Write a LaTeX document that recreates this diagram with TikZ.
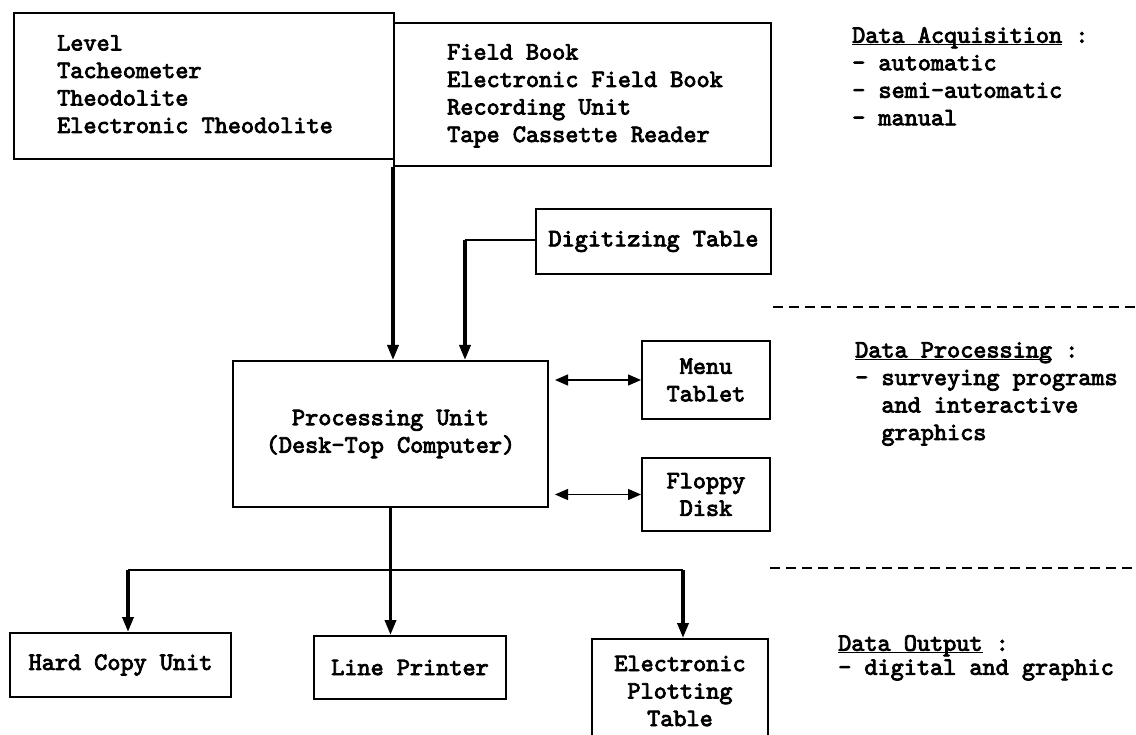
\documentclass[tikz,border=0pt]{standalone}
\usepackage{fontspec}
\usetikzlibrary{arrows.meta}
\newfontfamily\dmfam{lmmono10-regular.otf}[FakeBold=3.2]
\newcommand\dmfont{\dmfam\fontsize{25}{27.5}\selectfont}
\begin{document}
\begin{tikzpicture}[x=1pt,y=-1pt,
  box/.style={draw, line width=2pt, inner sep=0pt, anchor=north west, font=\dmfont, align=center},
  lbl/.style={inner sep=0pt, anchor=north west, font=\dmfont, align=left},
  arr/.style={line width=3.5pt, -{Triangle[length=15pt,width=11pt]}},
  link/.style={line width=2pt},
  dbl/.style={line width=1.3pt, {Triangle[length=13pt,width=11pt]}-{Triangle[length=13pt,width=11pt]}, shorten <=6pt},
  sep/.style={line width=1.6pt, dash pattern=on 10pt off 6pt}
]
\useasboundingbox (0,0) rectangle (1136,735);
\fill[white] (0,0) rectangle (1136,735);
\clip (0,0) rectangle (1136,735);

% boxes
\node[box, minimum width=380, minimum height=146] (b1) at (13,12) {};
\node[box, minimum width=377, minimum height=143] (b2) at (393,22) {};
\node[lbl] (t1) at (57,35) {Level\\Tacheometer\\Theodolite\\Electronic Theodolite};
\node[lbl] (t2) at (447,44) {Field Book\\Electronic Field Book\\Recording Unit\\Tape Cassette Reader};
\node[box, minimum width=235, minimum height=65] (dig) at (535,208) {Digitizing Table};
\node[box, minimum width=315, minimum height=146] (proc) at (232,360) {Processing Unit\\(Desk-Top Computer)};
\node[box, minimum width=128, minimum height=78] (menu) at (641,340) {Menu\\Tablet};
\node[box, minimum width=128, minimum height=73] (flop) at (641,457) {Floppy\\Disk};
\node[box, minimum width=221, minimum height=64] (hc) at (9,632) {Hard Copy Unit};
\node[box, minimum width=192, minimum height=63] (lp) at (313,635) {Line Printer};
\node[box, minimum width=176, minimum height=104] (pt) at (591,638) {Electronic\\Plotting\\Table};

% connectors
\draw[arr] (b2.south west) -- (b2.south west |- proc.north);
\coordinate (dj) at (465,240);
\draw[link] (dig.west |- dj) -- (dj);
\draw[arr] (dj) -- (dj |- proc.north);
\draw[dbl] (proc.east |- menu.west) -- (menu.west);
\draw[dbl] (proc.east |- flop.west) -- (flop.west);
\coordinate (bl) at (128,570);
\coordinate (brr) at (683,570);
\draw[link] (bl) -- (brr);
\draw[arr] (proc.south) -- (proc.south |- lp.north);
\draw[arr] (bl) -- (bl |- hc.north);
\draw[arr] (brr) -- (brr |- pt.north);

% separators
\coordinate (s1a) at (773,307); \coordinate (s1b) at (1136,307);
\coordinate (s2a) at (770,568); \coordinate (s2b) at (1136,568);
\draw[sep] (s1a) -- (s1b);
\draw[sep] (s2a) -- (s2b);

% side labels
\node[lbl] (acq) at (852,27) {\underbar{Data Acquisition} :\\- automatic\\- semi-automatic\\- manual};
\node[lbl] (prc) at (855,342) {\underbar{Data Processing} :\\- surveying programs\\\hspace*{1.05em}and interactive\\\hspace*{1.05em}graphics};
\node[lbl, font=\dmfam\fontsize{25}{24}\selectfont] (out) at (838,635) {\underbar{Data Output} :\\- digital and graphic};
\end{tikzpicture}
\end{document}
